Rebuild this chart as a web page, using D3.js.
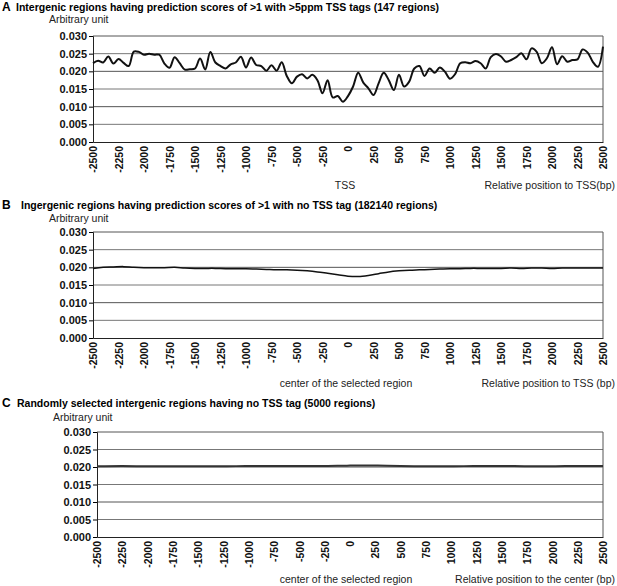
<!DOCTYPE html>
<html>
<head>
<meta charset="utf-8">
<script src="https://cdn.jsdelivr.net/npm/d3@7"></script>
<style>
  body { margin: 0; background: #fff; }
  svg { display: block; font-family: "Liberation Sans", Arial, sans-serif; }
</style>
</head>
<body>
<div id="chart"></div>
<script>
// x categories (bp relative to TSS / centre)
const ticksX = ['-2500', '-2250', '-2000', '-1750', '-1500', '-1250', '-1000', '-750', '-500', '-250',
    '0', '250', '500', '750', '1000', '1250', '1500', '1750', '2000', '2250', '2500'];
const ticksY = [0, 0.005, 0.010, 0.015, 0.020, 0.025, 0.030];

// panel A: every 50 bp
const posA = d3.range(-2500, 2501, 50);
const valuesA = [
    0.0223, 0.0230, 0.0225, 0.0242, 0.0222, 0.0235, 0.0224, 0.0215, 0.0256, 0.0255,
    0.0247, 0.0250, 0.0247, 0.0247, 0.0222, 0.0210, 0.0240, 0.0223, 0.0205, 0.0206,
    0.0208, 0.0236, 0.0205, 0.0255, 0.0225, 0.0215, 0.0208, 0.0220, 0.0225, 0.0241,
    0.0211, 0.0239, 0.0218, 0.0215, 0.0202, 0.0217, 0.0202, 0.0226, 0.0187, 0.0166,
    0.0185, 0.0192, 0.0180, 0.0190, 0.0175, 0.0138, 0.0175, 0.0126, 0.0130, 0.0114,
    0.0130, 0.0157, 0.0196, 0.0168, 0.0152, 0.0133, 0.0166, 0.0196, 0.0175, 0.0147,
    0.0190, 0.0157, 0.0171, 0.0208, 0.0215, 0.0187, 0.0208, 0.0196, 0.0211, 0.0199,
    0.0179, 0.0192, 0.0223, 0.0226, 0.0223, 0.0229, 0.0223, 0.0208, 0.0240, 0.0249,
    0.0242, 0.0227, 0.0232, 0.0240, 0.0251, 0.0234, 0.0265, 0.0255, 0.0223, 0.0237,
    0.0268, 0.0220, 0.0243, 0.0227, 0.0232, 0.0234, 0.0262, 0.0253, 0.0227, 0.0213,
    0.0270
];

// panel B: every 100 bp
const posB = d3.range(-2500, 2501, 100);
const valuesB = [
    0.0197, 0.0200, 0.0201, 0.0202, 0.0200, 0.0199, 0.0199, 0.0199, 0.0200, 0.0198,
    0.0197, 0.0197, 0.0197, 0.0196, 0.0196, 0.0196, 0.0195, 0.0194, 0.0193, 0.0193,
    0.0192, 0.0190, 0.0187, 0.0183, 0.0179, 0.0175, 0.0174, 0.0177, 0.0182, 0.0187,
    0.0190, 0.0192, 0.0193, 0.0194, 0.0195, 0.0196, 0.0196, 0.0197, 0.0197, 0.0197,
    0.0197, 0.0198, 0.0197, 0.0198, 0.0198, 0.0197, 0.0198, 0.0198, 0.0198, 0.0198,
    0.0198
];

// panel C: every 250 bp
const posC = d3.range(-2500, 2501, 250);
const valuesC = [
    0.0202, 0.0203, 0.0202, 0.0202, 0.0202, 0.0202, 0.0203, 0.0203, 0.0203, 0.0203,
    0.0204, 0.0204, 0.0203, 0.0202, 0.0202, 0.0203, 0.0203, 0.0202, 0.0202, 0.0203,
    0.0203
];

const panels = [
    { letter: 'A', title: 'Intergenic regions having prediction scores of >1 with >5ppm TSS tags (147 regions)',
      titleX: 16, titleY: 11, unitX: 49, unitY: 23,
      left: 93, right: 603, top: 36, bottom: 142,
      pos: posA, values: valuesA, stroke: '#111', sw: 2,
      centerLabel: 'TSS', centerX: 345, axisLabel: 'Relative position to TSS(bp)', labelY: 189 },
    { letter: 'B', title: 'Ingergenic regions having prediction scores of >1 with no TSS tag (182140 regions)',
      titleX: 21, titleY: 209, unitX: 49, unitY: 222,
      left: 93, right: 603, top: 232, bottom: 338,
      pos: posB, values: valuesB, stroke: '#111', sw: 1.5,
      centerLabel: 'center of the selected region', centerX: 346, axisLabel: 'Relative position to TSS (bp)', labelY: 387 },
    { letter: 'C', title: 'Randomly selected intergenic regions having no TSS tag (5000 regions)',
      titleX: 17, titleY: 407, unitX: 53, unitY: 421,
      left: 97, right: 603, top: 432, bottom: 537,
      pos: posC, values: valuesC, stroke: '#333', sw: 2,
      centerLabel: 'center of the selected region', centerX: 346, axisLabel: 'Relative position to the center (bp)', labelY: 583 }
];

const svg = d3.select('#chart').append('svg')
    .attr('width', 617)
    .attr('height', 586);

panels.forEach(p => {
    const x = d3.scaleLinear().domain([-2500, 2500]).range([p.left, p.right]);
    const y = d3.scaleLinear().domain([0, 0.030]).range([p.bottom, p.top]);
    const g = svg.append('g');

    g.append('text').attr('x', 2).attr('y', p.titleY)
        .attr('font-size', 12).attr('font-weight', 'bold').text(p.letter);
    g.append('text').attr('x', p.titleX).attr('y', p.titleY)
        .attr('font-size', 10.5).attr('font-weight', 'bold').text(p.title);
    g.append('text').attr('x', p.unitX).attr('y', p.unitY)
        .attr('font-size', 10.5).attr('fill', '#222').text('Arbitrary unit');

    // gridlines
    g.selectAll('line.grid').data(ticksY.slice(1)).join('line')
        .attr('class', 'grid')
        .attr('x1', p.left).attr('x2', p.right)
        .attr('y1', d => y(d)).attr('y2', d => y(d))
        .attr('stroke', (d, i) => i % 2 ? '#555' : '#777')
        .attr('stroke-width', 1);
    g.append('line')
        .attr('x1', p.right).attr('x2', p.right).attr('y1', p.top).attr('y2', p.bottom)
        .attr('stroke', '#555');

    // y axis
    const yAxis = g.append('g')
        .attr('transform', `translate(${p.left},0)`)
        .call(d3.axisLeft(y).tickValues(ticksY).tickFormat(d3.format('.3f')).tickSize(4).tickPadding(2));
    yAxis.select('.domain').attr('stroke', '#222');
    yAxis.selectAll('text').attr('font-size', 11).attr('font-weight', 'bold').attr('fill', '#111')
        .attr('font-family', '"Liberation Sans", Arial, sans-serif');

    // x axis
    const xAxis = g.append('g')
        .attr('transform', `translate(0,${p.bottom})`)
        .call(d3.axisBottom(x).tickValues(ticksX.map(Number)).tickFormat((d, i) => ticksX[i]).tickSize(0));
    xAxis.select('.domain').attr('stroke', '#222');
    xAxis.selectAll('text')
        .attr('font-size', 10.5).attr('font-weight', 'bold').attr('fill', '#111')
        .attr('font-family', '"Liberation Sans", Arial, sans-serif')
        .attr('transform', 'rotate(-90)')
        .attr('text-anchor', 'end')
        .attr('dy', '0.35em')
        .attr('x', -4)
        .attr('y', 0);

    // data line
    const line = d3.line()
        .x((d, i) => x(p.pos[i]))
        .y(d => y(d))
        .curve(d3.curveCatmullRom.alpha(0.5));
    g.append('path').datum(p.values)
        .attr('d', line)
        .attr('fill', 'none')
        .attr('stroke', p.stroke)
        .attr('stroke-width', p.sw)
        .attr('stroke-linejoin', 'round');

    // axis captions
    g.append('text').attr('x', p.centerX).attr('y', p.labelY)
        .attr('text-anchor', 'middle').attr('font-size', 10.5).attr('fill', '#222')
        .text(p.centerLabel);
    g.append('text').attr('x', 615).attr('y', p.labelY)
        .attr('text-anchor', 'end').attr('font-size', 10.5).attr('fill', '#222')
        .text(p.axisLabel);
});
</script>
</body>
</html>
